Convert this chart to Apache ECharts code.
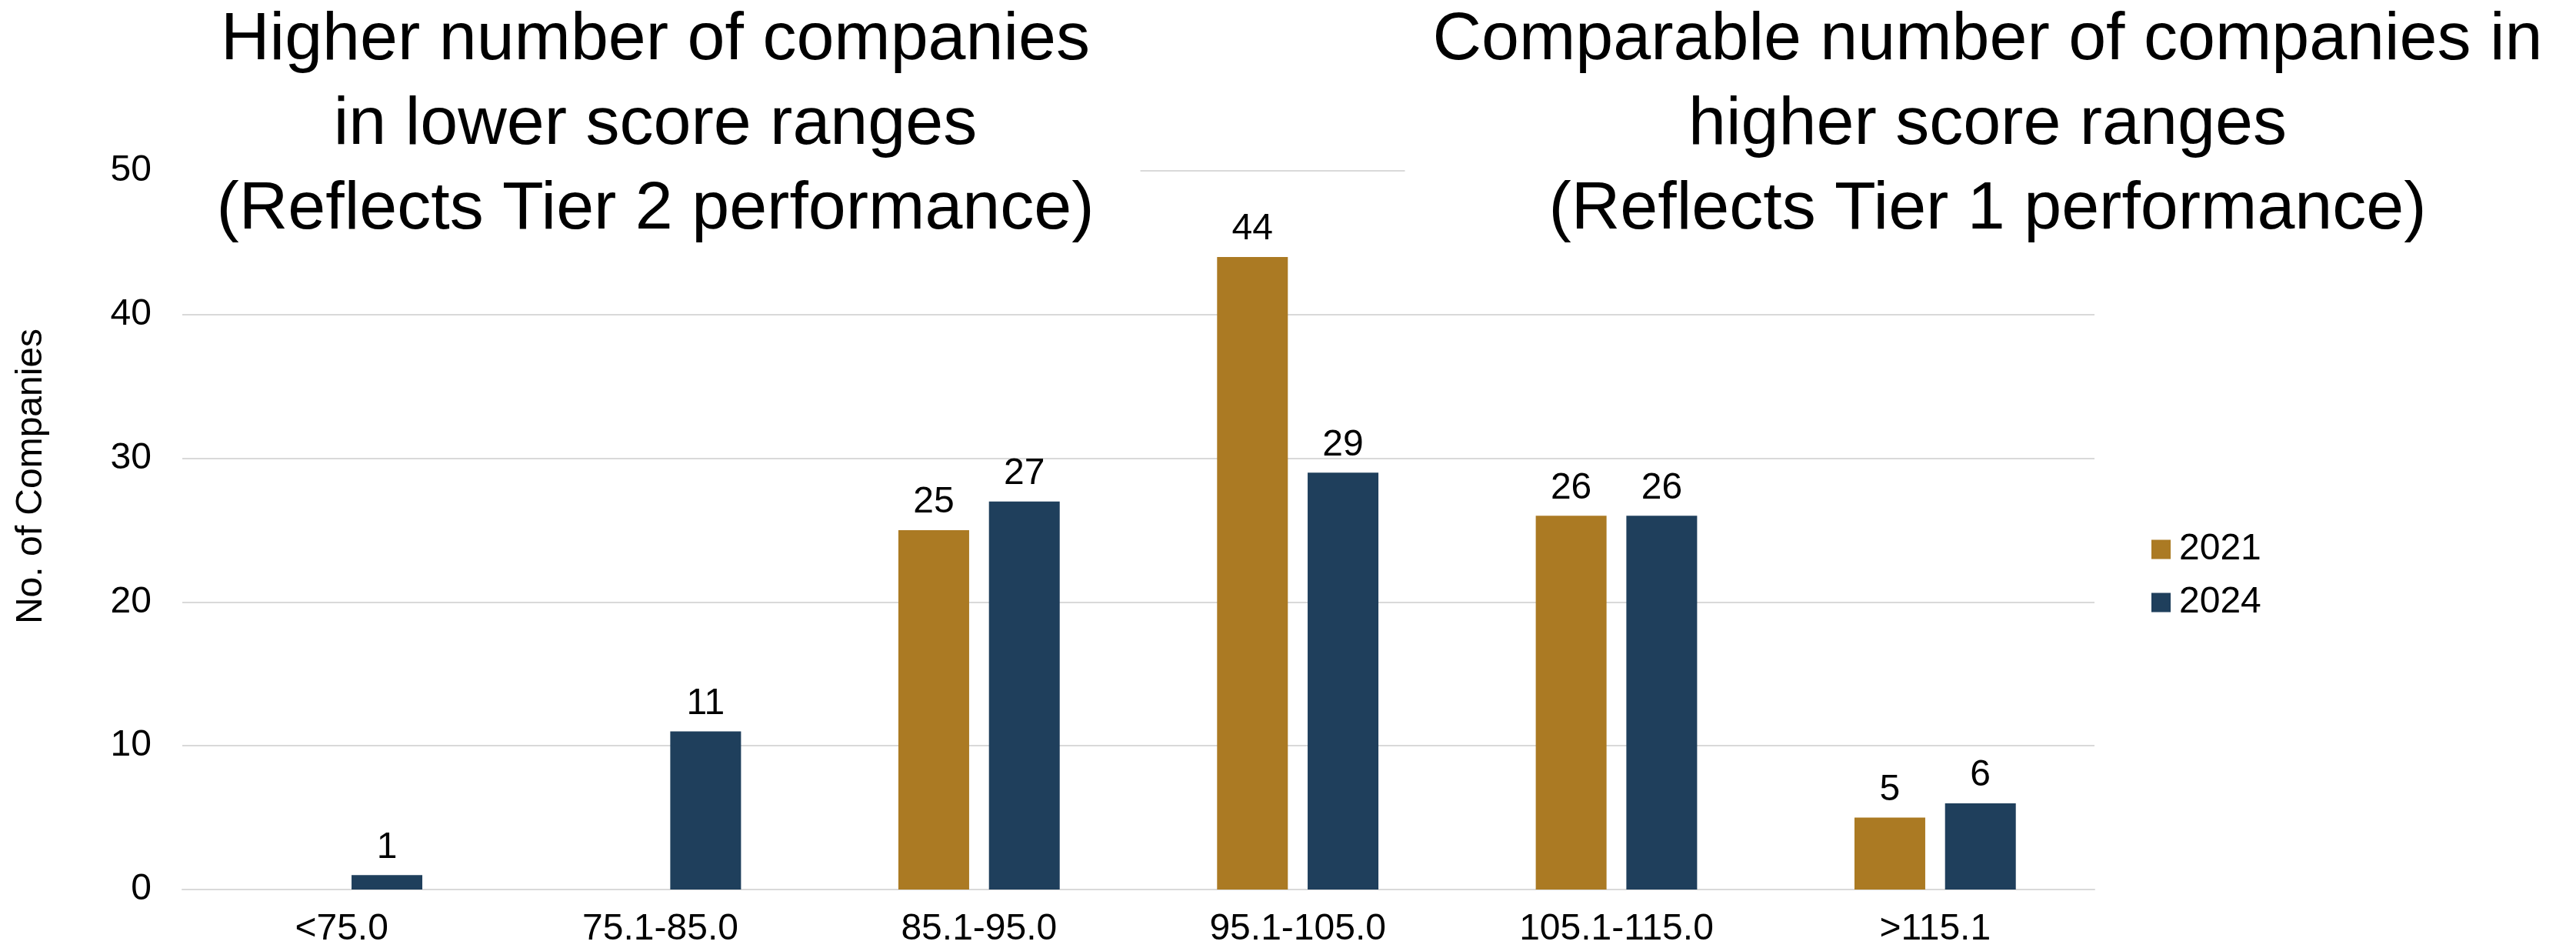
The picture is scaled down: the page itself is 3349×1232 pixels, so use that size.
<!DOCTYPE html>
<html>
<head>
<meta charset="utf-8">
<script src="https://cdn.jsdelivr.net/npm/echarts@6/dist/echarts.min.js"></script>
<style>
  html, body { margin: 0; padding: 0; background: #fff; }
  #chart { width: 3349px; height: 1232px; }
</style>
</head>
<body>
<div id="chart"></div>
<script>
const categories = ['<75.0', '75.1-85.0', '85.1-95.0', '95.1-105.0', '105.1-115.0', '>115.1'];
const values2021 = [0, 0, 25, 44, 26, 5];
const values2024 = [1, 11, 27, 29, 26, 6];
const seriesNames = ['2021', '2024'];
const leftTitle = 'Higher number of companies\nin lower score ranges\n(Reflects Tier 2 performance)';
const rightTitle = 'Comparable number of companies in\nhigher score ranges\n(Reflects Tier 1 performance)';

const GOLD = '#AB7A23';
const NAVY = '#1F3F5C';
const FONT = '"Liberation Sans", Arial, sans-serif';

const chart = echarts.init(document.getElementById('chart'));

const titleStyle = {
  fontFamily: FONT,
  fontSize: 88,
  fontWeight: 'normal',
  color: '#000',
  lineHeight: 110,
};

const labelStyle = {
  show: true,
  position: 'top',
  distance: 12,
  fontFamily: FONT,
  fontSize: 48,
  color: '#000',
  formatter: p => (p.value ? String(p.value) : ''),
};

chart.setOption({
  animation: false,
  backgroundColor: '#fff',
  title: [
    {
      text: leftTitle,
      left: 852 - 45,
      top: -10,
      textAlign: 'center',
      padding: [8, 60, 8, 45],
      backgroundColor: '#fff',
      textStyle: titleStyle,
    },
    {
      text: rightTitle,
      left: 2584 - 36,
      top: -10,
      textAlign: 'center',
      padding: [8, 30, 8, 36],
      backgroundColor: '#fff',
      textStyle: titleStyle,
    },
  ],
  legend: {
    data: seriesNames,
    orient: 'vertical',
    left: 2797,
    top: 690,
    padding: 0,
    itemWidth: 25,
    itemHeight: 25,
    itemGap: 21,
    icon: 'rect',
    textStyle: { fontFamily: FONT, fontSize: 48, lineHeight: 48, color: '#000', padding: [0, 0, 0, 6] },
  },
  grid: { left: 237, right: 626, top: 222, bottom: 76, outerBoundsMode: 'none' },
  xAxis: {
    type: 'category',
    data: categories,
    axisLine: { lineStyle: { color: '#d9d9d9', width: 2 } },
    axisTick: { show: false },
    axisLabel: { fontFamily: FONT, fontSize: 48, color: '#000', margin: 28 },
  },
  yAxis: {
    type: 'value',
    min: 0,
    max: 50,
    interval: 10,
    name: 'No. of Companies',
    nameLocation: 'middle',
    nameGap: 172,
    nameTextStyle: { fontFamily: FONT, fontSize: 48, color: '#000', padding: [0, 0, 0, 140] },
    axisLine: { show: false },
    axisTick: { show: false },
    axisLabel: { fontFamily: FONT, fontSize: 48, color: '#000', margin: 40 },
    splitLine: { lineStyle: { color: '#d9d9d9', width: 2 } },
  },
  series: [
    {
      name: seriesNames[0],
      type: 'bar',
      data: values2021,
      barWidth: 92,
      barGap: '28%',
      itemStyle: { color: GOLD },
      label: labelStyle,
    },
    {
      name: seriesNames[1],
      type: 'bar',
      data: values2024,
      barWidth: 92,
      barGap: '28%',
      itemStyle: { color: NAVY },
      label: labelStyle,
    },
  ],
});
</script>
</body>
</html>
